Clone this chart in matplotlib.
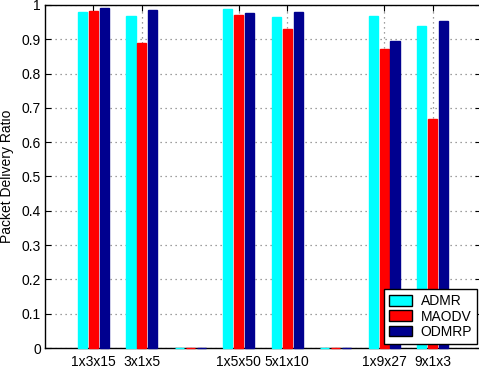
import matplotlib
matplotlib.use("Agg")
import matplotlib.pyplot as plt
import numpy as np

plt.rcParams['font.family'] = ['Liberation Sans', 'DejaVu Sans']

# topology labels (blank slots are spacer groups with zero bars)
topologies = ['1x3x15', '3x1x5', '', '1x5x50', '5x1x10', '', '1x9x27', '9x1x3']
admr = [0.979, 0.969, 0.0, 0.988, 0.965, 0.0, 0.968, 0.939]
maodv = [0.982, 0.890, 0.0, 0.971, 0.930, 0.0, 0.872, 0.668]
odmrp = [0.991, 0.985, 0.0, 0.977, 0.980, 0.0, 0.895, 0.953]

series = [('ADMR', admr, '#00FFFF'),
          ('MAODV', maodv, '#FF0000'),
          ('ODMRP', odmrp, '#00008F')]

fig = plt.figure(figsize=(4.79, 3.77), dpi=100)
ax = fig.add_axes([45 / 479, 29 / 377, 436 / 479, 343 / 377])

x = np.arange(1, len(topologies) + 1)
offsets = [-0.225, 0.0, 0.225]
for (name, vals, col), off in zip(series, offsets):
    ax.bar(x + off, vals, width=0.19, color=col, edgecolor=col,
           linewidth=1, label=name, zorder=3, clip_on=False)

ax.set_xlim(0, 9)
ax.set_ylim(0, 1)
# only the labelled groups get a tick
ticked = [i for i, t in enumerate(topologies) if t]
ax.set_xticks(x[ticked])
ax.set_xticklabels([topologies[i] for i in ticked], fontsize=10)
yt = np.round(np.arange(0, 1.01, 0.1), 1)
ax.set_yticks(yt)
ax.set_yticklabels(['%g' % v for v in yt], fontsize=10)
ax.tick_params(direction='in', top=True, right=True, length=4, width=0.8)
ax.tick_params(axis='y', pad=3)
ax.tick_params(axis='x', pad=5)
ax.grid(True, linestyle=(0, (1, 3)), color='#808080', linewidth=0.9, zorder=0)
for s in ax.spines.values():
    s.set_linewidth(1.0)
    s.set_zorder(2.5)

ax.set_ylabel('Packet Delivery Ratio', fontsize=10)
ax.yaxis.set_label_coords(-0.071, 0.5)

leg = ax.legend(loc='lower right', fontsize=10, frameon=True, fancybox=False,
                edgecolor='black', framealpha=1, borderaxespad=0.3,
                handlelength=1.65, handleheight=0.8, labelspacing=0.1,
                borderpad=0.35, handletextpad=0.6)
leg.get_frame().set_linewidth(1.0)
for h in leg.legend_handles:
    h.set_edgecolor('black')
leg.set_zorder(6)

fig.savefig('out.png', dpi=100)
